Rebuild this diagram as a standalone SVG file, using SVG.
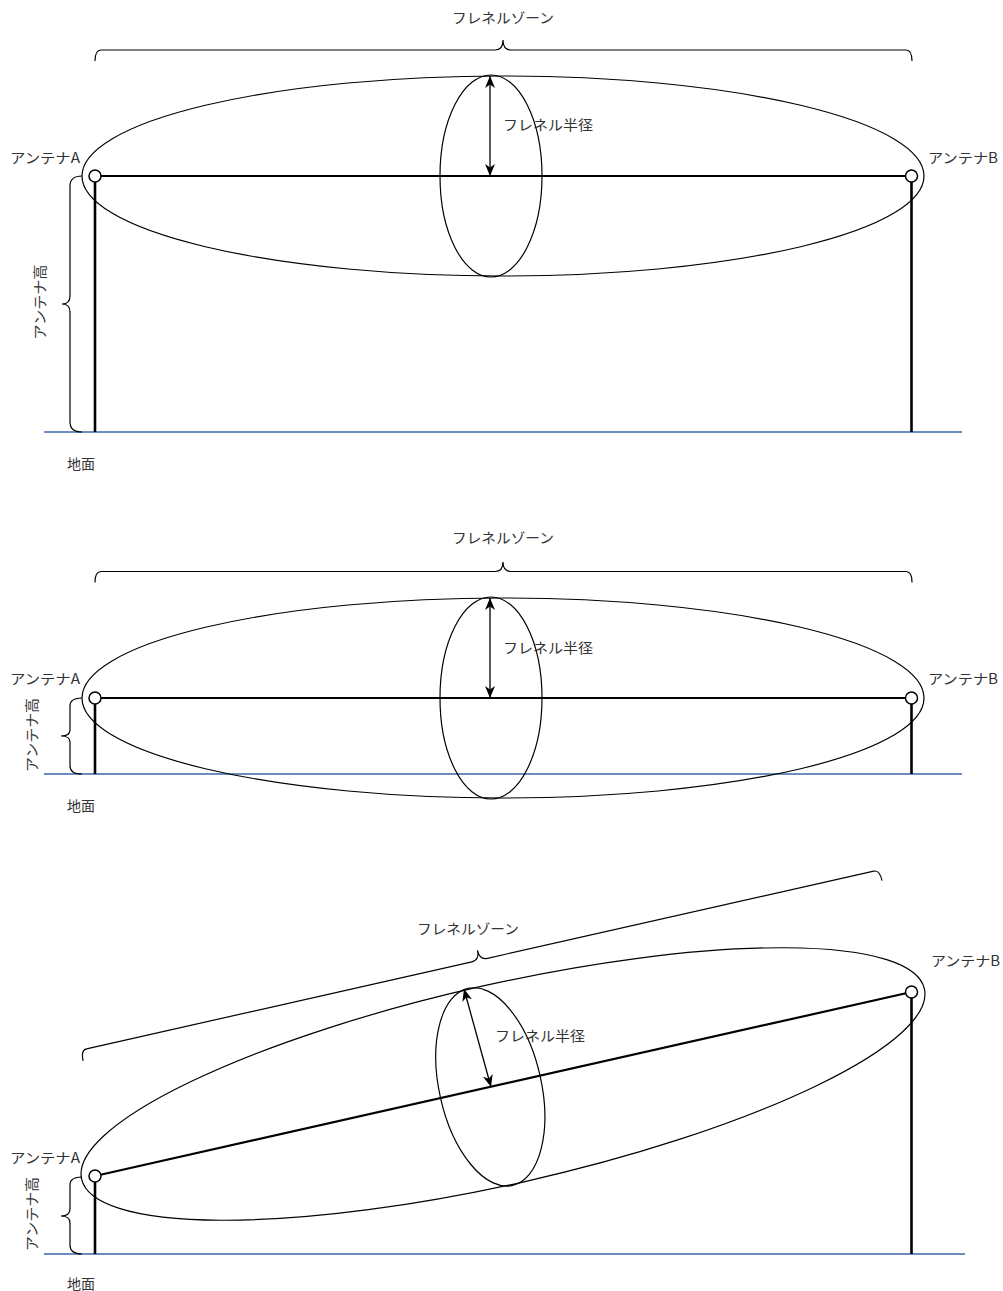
<svg xmlns="http://www.w3.org/2000/svg" width="1003" height="1291" viewBox="0 0 1003 1291">
<style>
.t{font-family:"Noto Sans CJK JP","Liberation Sans",sans-serif;font-size:14px;fill:#333;dominant-baseline:central}
.e{fill:none;stroke:#000;stroke-width:1.2}
.br{fill:none;stroke:#000;stroke-width:1.2}
.los{stroke:#000;stroke-width:2.2}
.pole{stroke:#000;stroke-width:2.6}
.gnd{stroke:#6c8ebf;stroke-width:2.2}
.ant{fill:#fff;stroke:#000;stroke-width:1.5}
.arr{stroke:#000;stroke-width:1.3;marker-start:url(#ah);marker-end:url(#ah)}
</style>
<defs>
<marker id="ah" viewBox="0 0 12 10" refX="12" refY="5" markerWidth="12" markerHeight="10" markerUnits="userSpaceOnUse" orient="auto-start-reverse">
<path d="M0,0 L12,5 L0,10 L3.5,5 Z" fill="#000"/>
</marker>
</defs>

<!-- Diagram 1 -->
<g id="d1-ground"><line class="gnd" x1="44" y1="432" x2="962" y2="432"/></g>
<g id="d1-fresnel-zone"><ellipse class="e" cx="503" cy="176" rx="421" ry="100"/></g>
<g id="d1-fresnel-section"><ellipse class="e" cx="491" cy="176" rx="51" ry="101"/></g>
<g id="d1-connectors">
<line class="los" x1="95" y1="176" x2="911.5" y2="176"/>
<line class="pole" x1="95" y1="182" x2="95" y2="432"/>
<line class="pole" x1="911.5" y1="182" x2="911.5" y2="432"/>
<line class="arr" x1="490" y1="76" x2="490" y2="176"/>
</g>
<g id="d1-antA"><circle class="ant" cx="95" cy="176" r="6"/><text class="t" x="10" y="157" textLength="70" lengthAdjust="spacingAndGlyphs">アンテナA</text></g>
<g id="d1-antB"><circle class="ant" cx="911.5" cy="176" r="6"/><text class="t" x="928" y="157" textLength="70" lengthAdjust="spacingAndGlyphs">アンテナB</text></g>
<g id="d1-zone-brace"><path class="br" d="M95,61 Q95,50 101,50 L495,50 Q503,50 503,40 Q503,50 511,50 L906,50 Q912,50 912,61"/><text class="t" x="503" y="17" text-anchor="middle" textLength="102" lengthAdjust="spacingAndGlyphs">フレネルゾーン</text></g>
<g id="d1-height-brace"><path class="br" d="M82,176 Q70,176 70,186 L70,296 Q70,304 62,304 Q70,304 70,312 L70,422 Q70,432 82,432"/><text class="t" transform="translate(39,302) rotate(-90)" x="0" y="0" text-anchor="middle" textLength="75" lengthAdjust="spacingAndGlyphs">アンテナ高</text></g>
<g id="d1-radius-label"><text class="t" x="503" y="124" textLength="90" lengthAdjust="spacingAndGlyphs">フレネル半径</text></g>
<g id="d1-ground-label"><text class="t" x="81" y="463" text-anchor="middle">地面</text></g>

<!-- Diagram 2 -->
<g id="d2-ground"><line class="gnd" x1="44" y1="774" x2="962" y2="774"/></g>
<g id="d2-fresnel-zone"><ellipse class="e" cx="503" cy="698" rx="421" ry="100"/></g>
<g id="d2-fresnel-section"><ellipse class="e" cx="491" cy="698" rx="51" ry="101"/></g>
<g id="d2-connectors">
<line class="los" x1="95" y1="698" x2="911.5" y2="698"/>
<line class="pole" x1="95" y1="704" x2="95" y2="774"/>
<line class="pole" x1="911.5" y1="704" x2="911.5" y2="774"/>
<line class="arr" x1="490" y1="598" x2="490" y2="698"/>
</g>
<g id="d2-antA"><circle class="ant" cx="95" cy="698" r="6"/><text class="t" x="10" y="678" textLength="70" lengthAdjust="spacingAndGlyphs">アンテナA</text></g>
<g id="d2-antB"><circle class="ant" cx="911.5" cy="698" r="6"/><text class="t" x="928" y="678" textLength="70" lengthAdjust="spacingAndGlyphs">アンテナB</text></g>
<g id="d2-zone-brace"><path class="br" d="M95,582.5 Q95,571.5 101,571.5 L495,571.5 Q503,571.5 503,562 Q503,571.5 511,571.5 L906,571.5 Q912,571.5 912,582.5"/><text class="t" x="503" y="537" text-anchor="middle" textLength="102" lengthAdjust="spacingAndGlyphs">フレネルゾーン</text></g>
<g id="d2-height-brace"><path class="br" d="M82,698 Q70,698 70,706 L70,730 Q70,736 61,736 Q70,736 70,742 L70,766 Q70,774 82,774"/><text class="t" transform="translate(31,735) rotate(-90)" x="0" y="0" text-anchor="middle" textLength="74" lengthAdjust="spacingAndGlyphs">アンテナ高</text></g>
<g id="d2-radius-label"><text class="t" x="503" y="647" textLength="90" lengthAdjust="spacingAndGlyphs">フレネル半径</text></g>
<g id="d2-ground-label"><text class="t" x="81" y="805" text-anchor="middle">地面</text></g>

<!-- Diagram 3 -->
<g id="d3-ground"><line class="gnd" x1="44" y1="1254" x2="965" y2="1254"/></g>
<g id="d3-fresnel-zone"><ellipse class="e" cx="0" cy="0" rx="432" ry="100" transform="translate(503,1084) rotate(-12.72)"/></g>
<g id="d3-fresnel-section"><ellipse class="e" cx="0" cy="0" rx="51" ry="101" transform="translate(490.3,1086.9) rotate(-12.72)"/></g>
<g id="d3-connectors">
<line class="los" x1="95" y1="1176" x2="911.5" y2="992"/>
<line class="pole" x1="95" y1="1182" x2="95" y2="1254"/>
<line class="pole" x1="911.5" y1="998" x2="911.5" y2="1254"/>
<line class="arr" x1="464" y1="989" x2="491" y2="1087"/>
</g>
<g id="d3-antA"><circle class="ant" cx="95" cy="1176" r="6"/><text class="t" x="10" y="1157" textLength="70" lengthAdjust="spacingAndGlyphs">アンテナA</text></g>
<g id="d3-antB"><circle class="ant" cx="911.5" cy="992" r="6"/><text class="t" x="931" y="960" textLength="69" lengthAdjust="spacingAndGlyphs">アンテナB</text></g>
<g id="d3-zone-brace"><path class="br" transform="translate(507.4,1083) rotate(-12.72)" d="M-409,-115 Q-409,-126 -403,-126 L-8,-126 Q0,-126 0,-136 Q0,-126 8,-126 L404,-126 Q410,-126 410,-115"/><text class="t" x="468" y="928" text-anchor="middle" textLength="102" lengthAdjust="spacingAndGlyphs">フレネルゾーン</text></g>
<g id="d3-height-brace"><path class="br" d="M82,1177 Q70,1177 70,1185 L70,1209 Q70,1216 61,1216 Q70,1216 70,1223 L70,1245 Q70,1254 82,1254"/><text class="t" transform="translate(31,1214) rotate(-90)" x="0" y="0" text-anchor="middle" textLength="74" lengthAdjust="spacingAndGlyphs">アンテナ高</text></g>
<g id="d3-radius-label"><text class="t" x="495" y="1035" textLength="90" lengthAdjust="spacingAndGlyphs">フレネル半径</text></g>
<g id="d3-ground-label"><text class="t" x="81" y="1283" text-anchor="middle">地面</text></g>
</svg>
